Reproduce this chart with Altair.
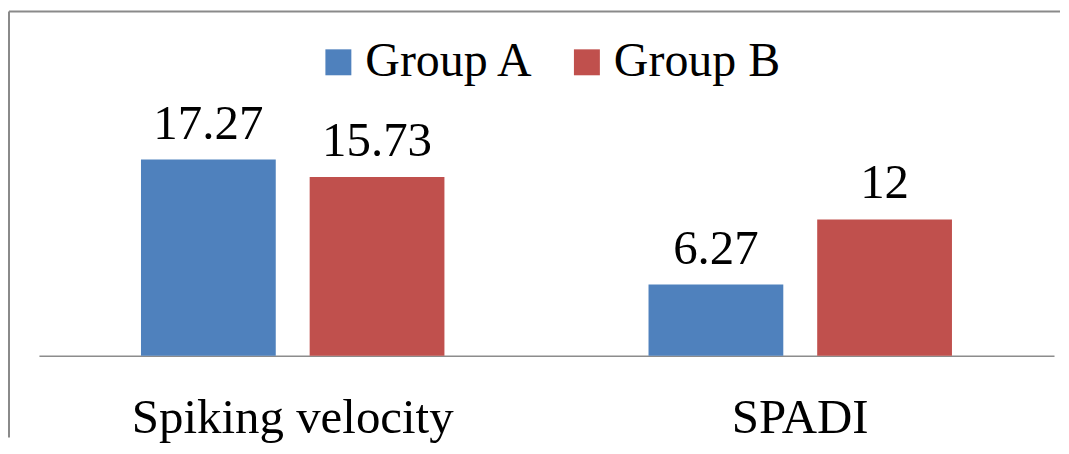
import altair as alt
import pandas as pd

categories = ["Spiking velocity", "SPADI"]
groups = ["Group A", "Group B"]
group_a = [17.27, 6.27]
group_b = [15.73, 12]
value_labels_a = ["17.27", "6.27"]
value_labels_b = ["15.73", "12"]
colors = ["#4F81BD", "#C0504D"]

rows = []
for i, c in enumerate(categories):
    rows.append({"category": c, "group": groups[0], "value": group_a[i], "label": value_labels_a[i]})
    rows.append({"category": c, "group": groups[1], "value": group_b[i], "label": value_labels_b[i]})
df = pd.DataFrame(rows)

FONT = "Liberation Serif"

x = alt.X("category:N", sort=categories, title=None,
          scale=alt.Scale(range=[30, 1047], paddingInner=0, paddingOuter=0),
          axis=alt.Axis(labelFont=FONT, labelFontSize=49, labelColor="black",
                        labelAngle=0, labelPadding=38, labelLimit=600, ticks=False,
                        domainColor="#8c8c8c", domainWidth=1.5, grid=False))
xo = alt.XOffset("group:N", sort=groups,
                 scale=alt.Scale(paddingInner=0.201, paddingOuter=0.605))
y = alt.Y("value:Q", axis=None, scale=alt.Scale(domain=[0, 30.58], nice=False, zero=True))

base = alt.Chart(df)

bars = base.mark_bar().encode(
    x=x, xOffset=xo, y=y,
    color=alt.Color("group:N", sort=groups,
                    scale=alt.Scale(domain=groups, range=colors),
                    legend=alt.Legend(title=None, orient="none", direction="horizontal",
                                      legendX=306, legendY=30, padding=0,
                                      symbolType="square", symbolSize=676,
                                      symbolStrokeWidth=0, symbolOpacity=1,
                                      labelFont=FONT, labelFontSize=48, labelColor="black",
                                      labelOffset=3, columnPadding=28,
                                      labelLimit=400)),
)

texts = base.mark_text(font=FONT, fontSize=49, color="black", baseline="alphabetic", dy=-21).encode(
    x=x, xOffset=xo, y=y, text="label:N"
)

frame_data = alt.Data(values=[{"f": 1}])
left_border = alt.Chart(frame_data).mark_rule(color="#8a8a8a", strokeWidth=2).encode(
    x=alt.value(0), y=alt.value(3), y2=alt.value(430)
)
top_border = alt.Chart(frame_data).mark_rule(color="#8a8a8a", strokeWidth=2).encode(
    y=alt.value(3)
)

chart = alt.layer(bars, texts, left_border, top_border).properties(
    width=1053, height=348, padding=0, background="white"
).configure_view(stroke=None)

chart.save("out.html", embed_options={"renderer": "svg", "actions": False})
